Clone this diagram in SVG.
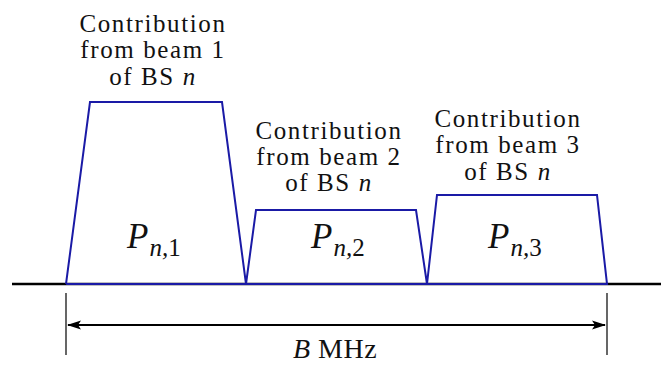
<svg xmlns="http://www.w3.org/2000/svg" width="661" height="365" viewBox="0 0 661 365">
<style>
text{font-family:"Liberation Serif","Times New Roman",serif}
.cap{font-size:25px;letter-spacing:1.6px;fill:#111;text-anchor:middle}
.p{font-style:italic;fill:#111}
.ax{stroke:#000;stroke-width:2.5;fill:none}
.spec{stroke:#1a1aa6;stroke-width:2;fill:none;stroke-linejoin:miter}
</style>
<defs>
<marker id="ah" viewBox="0 0 14 10" refX="13" refY="5" markerWidth="14" markerHeight="10" markerUnits="userSpaceOnUse" orient="auto-start-reverse">
<path d="M0,0.5 L14,5 L0,9.5 L3,5 Z" fill="#000"/>
</marker>
</defs>
<g id="axis">
<line class="ax" x1="12" y1="284" x2="661" y2="284"/>
</g>
<g id="connectors">
<line x1="66" y1="293" x2="66" y2="355" stroke="#000" stroke-width="1.2"/>
<line x1="607" y1="293" x2="607" y2="355" stroke="#000" stroke-width="1.2"/>
<line x1="68" y1="325" x2="605" y2="325" stroke="#000" stroke-width="2" marker-start="url(#ah)" marker-end="url(#ah)"/>
</g>
<g id="spectrum">
<polyline class="spec" points="66,284 90,102 222,102 246,284 256,210 416,210 427,284 437,195 597,195 607,284 66,284"/>
</g>
<g id="beam1">
<text class="cap" x="153" y="32">Contribution</text>
<text class="cap" x="153" y="58">from beam 1</text>
<text class="cap" x="153" y="85">of BS <tspan font-style="italic">n</tspan></text>
<text class="p" x="127" y="248" font-size="35">P<tspan font-size="25" dx="1" dy="8">n,</tspan><tspan font-size="25" font-style="normal">1</tspan></text>
</g>
<g id="beam2">
<text class="cap" x="329" y="139">Contribution</text>
<text class="cap" x="329" y="165">from beam 2</text>
<text class="cap" x="329" y="191">of BS <tspan font-style="italic">n</tspan></text>
<text class="p" x="311" y="248" font-size="35">P<tspan font-size="25" dx="1" dy="8">n,</tspan><tspan font-size="25" font-style="normal">2</tspan></text>
</g>
<g id="beam3">
<text class="cap" x="508" y="127">Contribution</text>
<text class="cap" x="508" y="153">from beam 3</text>
<text class="cap" x="508" y="180">of BS <tspan font-style="italic">n</tspan></text>
<text class="p" x="488" y="248" font-size="35">P<tspan font-size="25" dx="1" dy="8">n,</tspan><tspan font-size="25" font-style="normal">3</tspan></text>
</g>
<g id="bandwidth">
<text x="335" y="358" font-size="28" letter-spacing="0.5" fill="#111" text-anchor="middle"><tspan font-style="italic">B</tspan> MHz</text>
</g>
</svg>
